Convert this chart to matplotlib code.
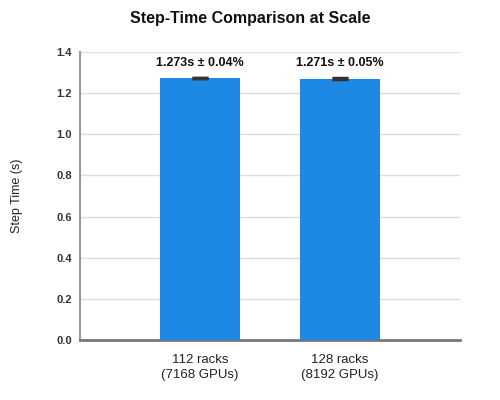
import matplotlib.pyplot as plt
import numpy as np

plt.rcParams['font.family'] = ['Liberation Sans', 'DejaVu Sans']

# data
categories = ['112 racks\n(7168 GPUs)', '128 racks\n(8192 GPUs)']
step_times = [1.273, 1.271]
error_pct = [0.04, 0.05]
labels = ['1.273s ± 0.04%', '1.271s ± 0.05%']

errors = [t * p / 100 for t, p in zip(step_times, error_pct)]

fig = plt.figure(figsize=(5, 4), dpi=100)
ax = fig.add_axes([0.16, 0.15, 0.76, 0.72])

x = np.arange(len(categories))
ax.bar(x, step_times, width=0.57, color='#1E88E5', zorder=3)
ax.errorbar(x, step_times, yerr=errors, fmt='none', ecolor='#333333',
            elinewidth=1.5, capsize=6, capthick=2.5, zorder=4)

for xi, t, lab in zip(x, step_times, labels):
    ax.text(xi, t + 0.045, lab, ha='center', va='bottom', fontsize=9,
            fontweight='bold', color='#111111')

ax.set_xlim(-0.857, 1.857)
ax.set_ylim(0, 1.4)
ax.set_yticks(np.arange(0, 1.41, 0.2))
ax.set_yticklabels([f'{v:.1f}' for v in np.arange(0, 1.41, 0.2)],
                   fontsize=8, fontweight='bold', color='#333333')
ax.set_xticks(x)
ax.set_xticklabels(categories, fontsize=9.5, color='#222222', linespacing=1.3)
ax.tick_params(axis='y', length=0, pad=6)
ax.tick_params(axis='x', length=0, pad=10)

ax.grid(axis='y', color='#dddddd', linewidth=1, zorder=0)
for side in ['top', 'right']:
    ax.spines[side].set_visible(False)
ax.spines['left'].set_color('#999999')
ax.spines['left'].set_linewidth(1.5)
ax.spines['bottom'].set_color('#777777')
ax.spines['bottom'].set_linewidth(2)

ax.set_ylabel('Step Time (s)', fontsize=9, color='#222222', labelpad=24)
fig.text(0.5, 0.955, 'Step-Time Comparison at Scale', ha='center', va='center',
         fontsize=11.5, fontweight='bold', color='#111111')

fig.savefig('out.png', dpi=100)
